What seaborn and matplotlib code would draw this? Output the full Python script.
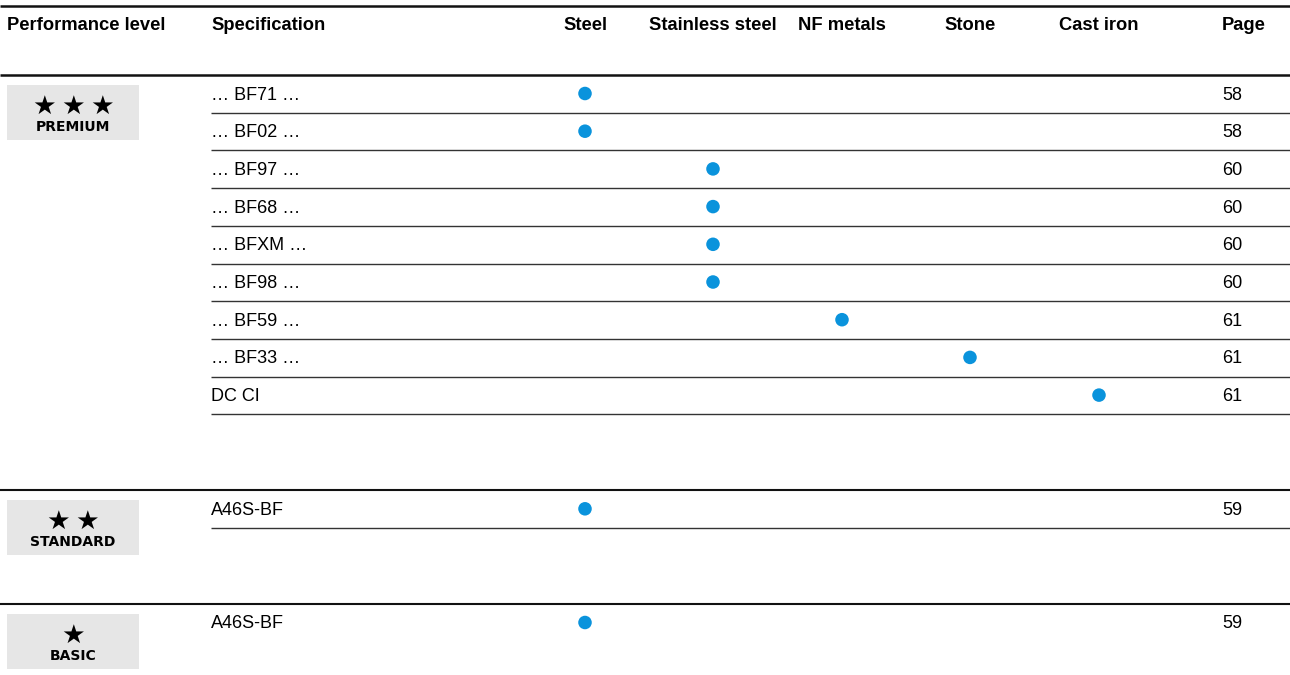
import numpy as np
import pandas as pd
import matplotlib
matplotlib.use('Agg')
import matplotlib.pyplot as plt
import seaborn as sns

# table data
levels = ['PREMIUM'] * 9 + ['STANDARD', 'BASIC']
specs = ['… BF71 …', '… BF02 …', '… BF97 …', '… BF68 …', '… BFXM …',
         '… BF98 …', '… BF59 …', '… BF33 …', 'DC CI', 'A46S-BF', 'A46S-BF']
materials = ['Steel', 'Steel', 'Stainless steel', 'Stainless steel', 'Stainless steel',
             'Stainless steel', 'NF metals', 'Stone', 'Cast iron', 'Steel', 'Steel']
pages = [58, 58, 60, 60, 60, 60, 61, 61, 61, 59, 59]

material_cols = ['Steel', 'Stainless steel', 'NF metals', 'Stone', 'Cast iron']
level_names = ['PREMIUM', 'STANDARD', 'BASIC']
level_stars = [3, 2, 1]

# layout (pixels)
W, H = 1290, 675
col_x = dict(zip(material_cols, [585, 713, 842, 970, 1099]))
spec_x, page_x = 211, 1222
pitch, gap = 37.7, 76
dot_color = '#0a93dc'

sns.set_theme(style='white')
plt.rcParams['font.family'] = ['Liberation Sans', 'DejaVu Sans']
plt.rcParams['text.color'] = 'black'

fig = plt.figure(figsize=(W / 100, H / 100), dpi=100)
ax = fig.add_axes([0, 0, 1, 1])
ax.set_xlim(0, W)
ax.set_ylim(H, 0)
ax.axis('off')

# header
ax.plot([0, W], [6, 6], color='#111111', lw=1.8, solid_capstyle='butt')
hdr_base = 30.5
hfs = 13.2
ax.text(7, hdr_base, 'Performance level', fontsize=hfs, fontweight='bold', va='baseline', ha='left')
ax.text(spec_x, hdr_base, 'Specification', fontsize=hfs, fontweight='bold', va='baseline', ha='left')
for m in material_cols:
    ax.text(col_x[m], hdr_base, m, fontsize=hfs, fontweight='bold', va='baseline', ha='center')
ax.text(page_x, hdr_base, 'Page', fontsize=hfs, fontweight='bold', va='baseline', ha='left')

df = pd.DataFrame({'level': levels, 'spec': specs, 'material': materials, 'page': pages})

# row positions, section by section
y = 75
row_y = []
for k, lvl in enumerate(level_names):
    sub = df[df['level'] == lvl]
    lw = 1.8 if k == 0 else 1.5
    ax.plot([0, W], [y, y], color='#111111', lw=lw, solid_capstyle='butt')
    # badge
    n = len(sub)
    ax.add_patch(plt.Rectangle((7, y + 10), 132, 54.5, color='#e6e6e6', lw=0))
    ns = level_stars[k]
    sx = 73 + (np.arange(ns) - (ns - 1) / 2) * 29
    for xs in sx:
        ax.text(xs, y + 32, '★', fontsize=19, family='DejaVu Sans', ha='center', va='center')
    ax.text(73, y + 56, lvl, fontsize=10, family='DejaVu Sans', fontweight='bold',
            fontstretch='normal', ha='center', va='baseline')
    for i in range(n):
        ry = y + 17.5 + i * pitch
        row_y.append(ry)
        if k < len(level_names) - 1:
            ax.plot([spec_x, W], [y + (i + 1) * pitch] * 2, color='#333333', lw=1.0,
                    solid_capstyle='butt')
    y = y + n * pitch + gap

df['y'] = row_y
df['x'] = df['material'].map(col_x)

for _, r in df.iterrows():
    ax.text(spec_x, r['y'] + 7, r['spec'], fontsize=13, va='baseline', ha='left')
    ax.text(page_x, r['y'] + 7, str(r['page']), fontsize=13, va='baseline', ha='left')

sns.scatterplot(data=df.assign(yd=df['y'] + 1), x='x', y='yd', color=dot_color, s=95,
                edgecolor='none', ax=ax, legend=False)
ax.set_xlim(0, W)
ax.set_ylim(H, 0)
ax.axis('off')

fig.savefig('out.png', dpi=100)
